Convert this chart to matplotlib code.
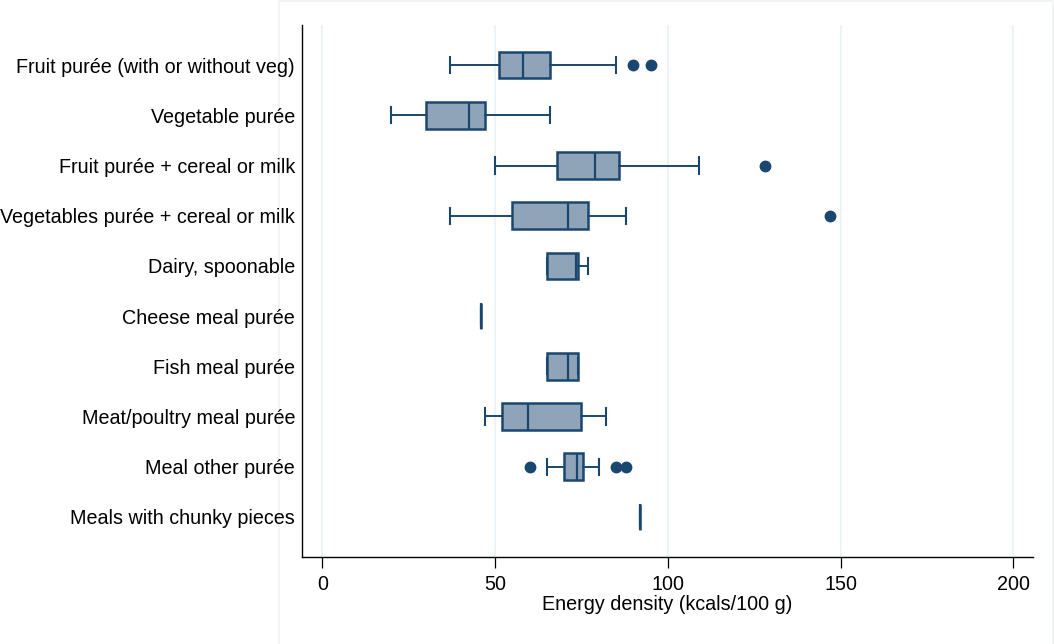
import matplotlib
matplotlib.use("Agg")
import matplotlib.pyplot as plt
from matplotlib.patches import Rectangle

plt.rcParams['font.family'] = ['Liberation Sans', 'DejaVu Sans']

categories = [
    "Fruit purée (with or without veg)",
    "Vegetable purée",
    "Fruit purée + cereal or milk",
    "Vegetables purée + cereal or milk",
    "Dairy, spoonable",
    "Cheese meal purée",
    "Fish meal purée",
    "Meat/poultry meal purée",
    "Meal other purée",
    "Meals with chunky pieces",
]

# five-number summaries (kcal/100 g) per category
whislo = [37, 20, 50, 37, 65, 46, 65, 47, 65, 92]
q1 = [51, 30, 68, 55, 65, 46, 65, 52, 70, 92]
med = [58, 42.5, 79, 71, 73.3, 46, 71, 59.5, 73.6, 92]
q3 = [66, 47, 86, 77, 74, 46, 74, 75, 75.5, 92]
whishi = [85, 66, 109, 88, 77, 46, 74, 82, 80, 92]
outliers = [[90, 95], [], [128], [147], [], [], [], [], [60, 85, 88], []]

navy = "#1A476F"
fill = "#8FA4B8"
fs = 14.2

stats = []
for i, name in enumerate(categories):
    stats.append(dict(label=name, whislo=whislo[i], q1=q1[i], med=med[i],
                      q3=q3[i], whishi=whishi[i], fliers=outliers[i]))

fig = plt.figure(figsize=(10.54, 6.44), dpi=100)
ax = fig.add_axes([302 / 1054, 1 - 557 / 644, (1033 - 302) / 1054, (557 - 25) / 644])

positions = list(range(1, len(categories) + 1))
ax.bxp(stats, positions=positions, vert=False, widths=0.53, capwidths=0.32,
       patch_artist=True,
       boxprops=dict(facecolor=fill, edgecolor=navy, linewidth=1.8),
       medianprops=dict(color=navy, linewidth=1.6),
       whiskerprops=dict(color=navy, linewidth=1.4),
       capprops=dict(color=navy, linewidth=1.5),
       flierprops=dict(marker='o', markerfacecolor=navy, markeredgecolor=navy,
                       markersize=7.5, linestyle='none'))

ax.set_xlim(-5.9, 205.7)
ax.set_ylim(10.8, 0.2)
ax.set_xticks([0, 50, 100, 150, 200])
for xv in [0, 50, 100, 150, 200]:
    ax.axvline(xv, color="#EAF2F3", linewidth=1.3, zorder=0)

ax.set_yticks(positions)
ax.set_yticklabels(categories, fontsize=fs)
ax.tick_params(axis='y', length=0, pad=5)
ax.tick_params(axis='x', length=8, width=0.9, labelsize=fs, pad=5)
ax.set_xlabel("Energy density (kcals/100 g)", fontsize=fs, labelpad=1)

ax.spines['top'].set_visible(False)
ax.spines['right'].set_visible(False)
ax.spines['left'].set_linewidth(1.0)
ax.spines['bottom'].set_linewidth(1.0)

# faint outer frame behind everything
frame = Rectangle((279 / 1054, -0.01), (1053 - 279) / 1054, 1 - 1 / 644 + 0.01,
                  transform=fig.transFigure, fill=False,
                  edgecolor="#F0F2F2", linewidth=1.2, zorder=-5)
fig.patches.append(frame)

fig.savefig("out.png", dpi=100)
